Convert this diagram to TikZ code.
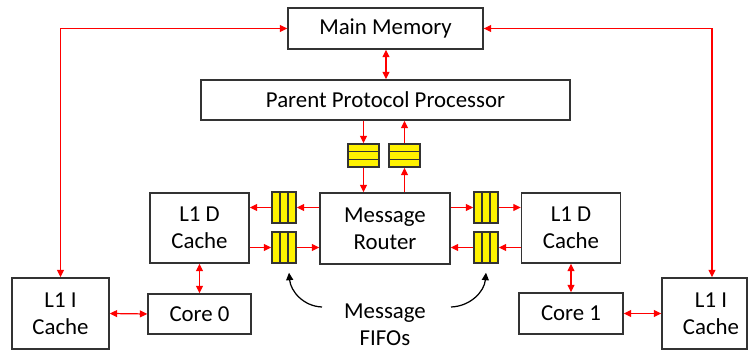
\documentclass[tikz,border=0pt]{standalone}
\usepackage{fontspec}
\setmainfont{Carlito}
\usetikzlibrary{arrows.meta}
\usetikzlibrary{calc}
\tikzset{box/.style={draw=black!80, line width=0.8pt, fill=white, align=center, inner sep=0pt,
    font=\fontsize{13}{15.2}\selectfont}}
\tikzset{link/.style={red, line width=0.7pt, -{Triangle[length=1.5mm,width=1.4mm]}}}
\tikzset{dlink/.style={red, line width=0.7pt, {Triangle[length=1.5mm,width=1.4mm]}-{Triangle[length=1.5mm,width=1.4mm]}}}
\tikzset{pointer/.style={black, line width=0.7pt, -{Triangle[length=1.5mm,width=1.4mm]}}}
\tikzset{vfifo/.style={draw=black!80, line width=0.8pt, fill=yellow, minimum width=0.48cm, minimum height=0.62cm, inner sep=0pt,
    path picture={\foreach \t in {0.333,0.667}
        \draw[black!80, line width=0.8pt] ($(path picture bounding box.south west)!\t!(path picture bounding box.south east)$)
            -- ($(path picture bounding box.north west)!\t!(path picture bounding box.north east)$);}}}
\tikzset{hfifo/.style={draw=black!80, line width=0.8pt, fill=yellow, minimum width=0.62cm, minimum height=0.46cm, inner sep=0pt,
    path picture={\foreach \t in {0.333,0.667}
        \draw[black!80, line width=0.8pt] ($(path picture bounding box.south west)!\t!(path picture bounding box.north west)$)
            -- ($(path picture bounding box.south east)!\t!(path picture bounding box.north east)$);}}}

\begin{document}
\begin{tikzpicture}[x=0.02cm, y=-0.02cm]
    \useasboundingbox (0,0) rectangle (748,350);

    \node[box, minimum width=3.9cm, minimum height=0.82cm] (mem) at (385.5,28.5) {Main Memory};
    \node[box, minimum width=7.38cm, minimum height=0.8cm] (ppp) at (385.5,100) {Parent Protocol Processor};
    \node[box, minimum width=2.6cm, minimum height=1.42cm] (router) at (385,228.5) {Message\\Router};
    \node[box, minimum width=1.98cm, minimum height=1.4cm] (ld0) at (199.5,228) {L1 D\\Cache};
    \node[box, minimum width=1.98cm, minimum height=1.4cm] (ld1) at (571,228) {L1 D\\Cache};
    \node[box, minimum width=2.06cm, minimum height=0.8cm] (core0) at (199.5,314) {Core 0};
    \node[box, minimum width=2.08cm, minimum height=0.82cm] (core1) at (571,313.5) {Core 1};
    \node[box, minimum width=1.94cm, minimum height=1.42cm] (li0) at (60.5,313.5) {L1 I\\Cache};
    \node[box, minimum width=1.7cm, minimum height=1.42cm] (li1) at (704.5,313.5) {\hspace{0.26cm}L1 I\\\hspace{0.26cm}Cache};

    % message fifos
    \node[hfifo] (down) at (363.5,155.5) {};
    \node[hfifo] (up) at (404.5,155.5) {};
    \node[vfifo] (lout) at (284,207.5) {};
    \node[vfifo] (lin) at (284,247.5) {};
    \node[vfifo] (rout) at (486,207.5) {};
    \node[vfifo] (rin) at (486,247.5) {};

    \draw[dlink] (mem.west) -| (li0.north);
    \draw[dlink] (mem.east) -| ([xshift=0.15cm]li1.north);
    \draw[dlink] ([xshift=0.01cm]mem.south) -- ([xshift=0.01cm]ppp.north);

    \draw[link] (down.north |- ppp.south) -- (down.north);
    \draw[link] (down.south) -- (down.south |- router.north);
    \draw[link] (up.south |- router.north) -- (up.south);
    \draw[link] (up.north) -- (up.north |- ppp.south);

    \draw[link] (lout.east -| router.west) -- (lout.east);
    \draw[link] (lout.west) -- (lout.west -| ld0.east);
    \draw[link] (lin.west -| ld0.east) -- (lin.west);
    \draw[link] (lin.east) -- (lin.east -| router.west);
    \draw[link] (rout.west -| router.east) -- (rout.west);
    \draw[link] (rout.east) -- (rout.east -| ld1.west);
    \draw[link] (rin.east -| ld1.west) -- (rin.east);
    \draw[link] (rin.west) -- (rin.west -| router.east);

    \draw[dlink] (ld0.south) -- (core0.north);
    \draw[dlink] (ld1.south) -- (core1.north);
    \draw[dlink] (li0.east) -- (core0.west);
    \draw[dlink] (core1.east) -- (li1.west);

    \node[align=center, inner sep=0pt, font=\fontsize{13}{15.4}\selectfont] (label) at (385,325) {Message\\FIFOs};
    \coordinate (cl) at (322,307);
    \coordinate (cr) at (451,307);
    \draw[pointer] (cl) to[out=178,in=-85] ([xshift=0.1cm,yshift=-0.18cm]lin.south);
    \draw[pointer] (cr) to[out=2,in=-95] ([xshift=0.0cm,yshift=-0.18cm]rin.south);
\end{tikzpicture}
\end{document}
